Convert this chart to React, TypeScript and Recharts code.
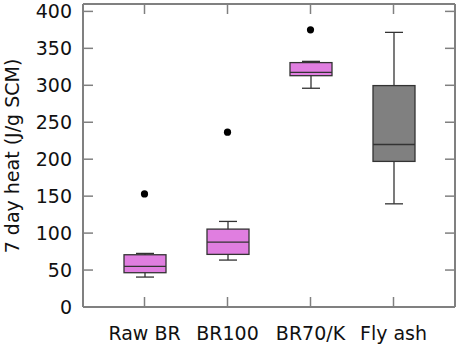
import React from 'react';
import { ComposedChart, Bar, Scatter, XAxis, YAxis, Customized } from 'recharts';

const categories = ['Raw BR', 'BR100', 'BR70/K', 'Fly ash'];
const whiskerMin = [40.5, 63.5, 296, 139.6];
const q1 = [46.4, 71.2, 313, 197];
const median = [55, 87.8, 317.6, 219.9];
const q3 = [70.7, 105.4, 330.7, 299.6];
const whiskerMax = [72.5, 115.8, 332.4, 371.6];
const outliers: (number | null)[] = [153, 236.5, 375, null];
const boxFills = ['#e07ee0', '#e07ee0', '#e07ee0', '#808080'];
const yTicks = [0, 50, 100, 150, 200, 250, 300, 350, 400];

const data = categories.map((name, i) => ({
  name,
  range: [whiskerMin[i], whiskerMax[i]],
  min: whiskerMin[i],
  q1: q1[i],
  median: median[i],
  q3: q3[i],
  max: whiskerMax[i],
  outlier: outliers[i],
  fill: boxFills[i],
}));

const FONT = 'DejaVu Sans';
const FS = 19;
const AXIS = '#808080';
const TICK_LEN = 10;

const CHART_W = 457;
const CHART_H = 346;
const M_TOP = 4;
const M_RIGHT = 2;
const Y_W = 83;
const X_H = 39;
const PLOT_LEFT = Y_W;
const PLOT_RIGHT = CHART_W - M_RIGHT;
const PLOT_TOP = M_TOP;
const PLOT_BOTTOM = CHART_H - X_H;

const BoxShape = (props: any) => {
  const { x, y, width, height, payload } = props;
  if (!payload) return null;
  const h = Math.abs(height);
  const top = Math.min(y, y + height);
  const k = h / (payload.max - payload.min);
  const py = (v: number) => top + (payload.max - v) * k;
  const cx = x + width / 2;
  const capW = 18;
  const stroke = '#333';
  return (
    <g>
      <line x1={cx} x2={cx} y1={py(payload.max)} y2={py(payload.min)} stroke={stroke} strokeWidth={1.3} />
      <line x1={cx - capW / 2} x2={cx + capW / 2} y1={py(payload.max)} y2={py(payload.max)} stroke={stroke} strokeWidth={1.3} />
      <line x1={cx - capW / 2} x2={cx + capW / 2} y1={py(payload.min)} y2={py(payload.min)} stroke={stroke} strokeWidth={1.3} />
      <rect x={x} y={py(payload.q3)} width={width} height={py(payload.q1) - py(payload.q3)} fill={payload.fill} stroke={stroke} strokeWidth={1.3} />
      <line x1={x} x2={x + width} y1={py(payload.median)} y2={py(payload.median)} stroke={stroke} strokeWidth={1.3} />
    </g>
  );
};

const OutlierShape = (props: any) => {
  const { cx, cy, payload } = props;
  if (!payload || payload.outlier == null || cx == null || cy == null || isNaN(cy)) return null;
  return <circle cx={cx} cy={cy} r={3.6} fill="#000" />;
};

const LeftTick = (props: any) => {
  const { x, y, payload } = props;
  return (
    <g>
      <line x1={x} x2={x + TICK_LEN} y1={y} y2={y} stroke={AXIS} strokeWidth={1.5} />
      <line x1={PLOT_RIGHT} x2={PLOT_RIGHT - TICK_LEN} y1={y} y2={y} stroke={AXIS} strokeWidth={1.5} />
      <text x={x - 11} y={y} dy={7} textAnchor="end" fontFamily={FONT} fontSize={FS} fill="#111">
        {payload.value}
      </text>
    </g>
  );
};

const BottomTick = (props: any) => {
  const { x, y, payload } = props;
  return (
    <g>
      <line x1={x} x2={x} y1={y} y2={y - TICK_LEN} stroke={AXIS} strokeWidth={1.5} />
      <line x1={x} x2={x} y1={PLOT_TOP} y2={PLOT_TOP + TICK_LEN} stroke={AXIS} strokeWidth={1.5} />
      <text x={x} y={y + 33} textAnchor="middle" fontFamily={FONT} fontSize={FS} fill="#111">
        {payload.value}
      </text>
    </g>
  );
};

const Frame = () => (
  <g>
    <line x1={PLOT_LEFT} x2={PLOT_RIGHT} y1={PLOT_TOP} y2={PLOT_TOP} stroke={AXIS} strokeWidth={2} />
    <line x1={PLOT_RIGHT} x2={PLOT_RIGHT} y1={PLOT_TOP} y2={PLOT_BOTTOM} stroke={AXIS} strokeWidth={2} />
  </g>
);

const YLabel = () => (
  <text
    x={19}
    y={156}
    transform="rotate(-90 19 156)"
    textAnchor="middle"
    fontFamily={FONT}
    fontSize={FS}
    fill="#111"
  >
    7 day heat (J/g SCM)
  </text>
);

export default function App() {
  return (
    <div style={{ position: 'absolute', left: 0, top: 0, background: '#fff' }}>
      <ComposedChart
        width={CHART_W}
        height={CHART_H}
        data={data}
        margin={{ top: M_TOP, right: M_RIGHT, bottom: 0, left: 0 }}
      >
        <XAxis
          dataKey="name"
          type="category"
          padding={{ left: 20, right: 20 }}
          height={X_H}
          tickSize={0}
          tickMargin={0}
          interval={0}
          axisLine={{ stroke: AXIS, strokeWidth: 2 }}
          tick={<BottomTick />}
        />
        <YAxis
          type="number"
          domain={[0, 410]}
          ticks={yTicks}
          width={Y_W}
          tickSize={0}
          tickMargin={0}
          interval={0}
          axisLine={{ stroke: AXIS, strokeWidth: 2 }}
          tick={<LeftTick />}
        />
        <Bar dataKey="range" barSize={42} shape={<BoxShape />} isAnimationActive={false} />
        <Scatter dataKey="outlier" shape={<OutlierShape />} isAnimationActive={false} />
        <Customized component={Frame} />
        <Customized component={YLabel} />
      </ComposedChart>
    </div>
  );
}
